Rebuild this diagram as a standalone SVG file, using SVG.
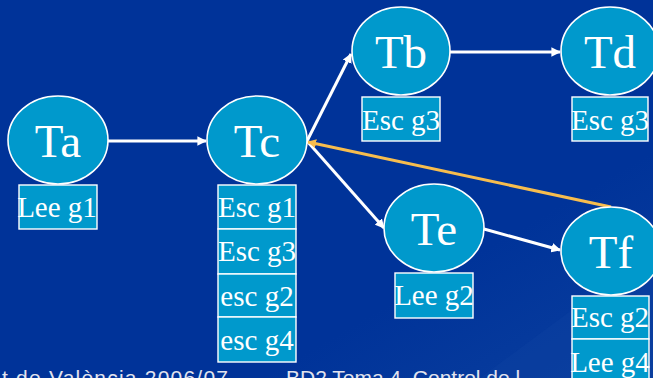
<svg xmlns="http://www.w3.org/2000/svg" width="653" height="378" viewBox="0 0 653 378">
<defs>
<linearGradient id="bg" x1="0" y1="0" x2="1" y2="1">
<stop offset="0" stop-color="#003399"/>
<stop offset="0.7" stop-color="#003399"/>
<stop offset="1" stop-color="#0a3f9f"/>
</linearGradient>
<marker id="aw" viewBox="0 0 10 10" refX="9" refY="5" markerWidth="3.2" markerHeight="3.2" orient="auto" markerUnits="strokeWidth">
<path d="M0,0 L10,5 L0,10 z" fill="#ffffff"/>
</marker>
<marker id="ao" viewBox="0 0 10 10" refX="9" refY="5" markerWidth="3" markerHeight="3" orient="auto" markerUnits="strokeWidth">
<path d="M0,0 L10,5 L0,10 z" fill="#f7bd4e"/>
</marker>
</defs>
<style>
.n{fill:#0099cc;stroke:#ffffff;stroke-width:1.6}
.b{fill:#0099cc;stroke:#ffffff;stroke-width:1.4}
.t{font-family:"Liberation Serif","Times New Roman",serif;fill:#ffffff;text-anchor:middle}
.big{font-size:47px}
.sm{font-size:29px}
.e{stroke:#ffffff;stroke-width:3;fill:none;marker-end:url(#aw)}
.o{stroke:#f7bd4e;stroke-width:3;fill:none;marker-end:url(#ao)}
.f{font-family:"Liberation Sans",Arial,sans-serif;font-size:21px;fill:#e2e4ee}
</style>
<rect width="653" height="378" fill="url(#bg)"/>
<polygon points="480,378 653,250 653,378" fill="#0b3fa0" opacity="0.5"/>
<g id="connectors">
<line class="e" x1="108" y1="141" x2="206" y2="141"/>
<line class="e" x1="307" y1="141" x2="351" y2="54"/>
<line class="e" x1="307" y1="141" x2="384" y2="228"/>
<line class="e" x1="450" y1="52" x2="560" y2="52"/>
<line class="e" x1="484" y1="229" x2="560" y2="250"/>
<line class="o" x1="611" y1="207" x2="308" y2="142"/>
</g>
<g id="Ta">
<ellipse class="n" cx="58" cy="140" rx="50" ry="44"/>
<text class="t big" x="58" y="157">Ta</text>
<rect class="b" x="19" y="185" width="78" height="44"/>
<text class="t sm" x="57" y="217">Lee g1</text>
</g>
<g id="Tc">
<ellipse class="n" cx="257" cy="140" rx="50" ry="44"/>
<text class="t big" x="257" y="157">Tc</text>
<rect class="b" x="218" y="185" width="78" height="44"/>
<rect class="b" x="218" y="229" width="78" height="45"/>
<rect class="b" x="218" y="274" width="78" height="43"/>
<rect class="b" x="218" y="317" width="78" height="45"/>
<text class="t sm" x="257" y="217">Esc g1</text>
<text class="t sm" x="257" y="261">Esc g3</text>
<text class="t sm" x="257" y="306">esc g2</text>
<text class="t sm" x="257" y="350">esc g4</text>
</g>
<g id="Tb">
<ellipse class="n" cx="401" cy="51" rx="49" ry="44"/>
<text class="t big" x="401" y="68">Tb</text>
<rect class="b" x="362" y="97" width="78" height="44"/>
<text class="t sm" x="401" y="130">Esc g3</text>
</g>
<g id="Td">
<ellipse class="n" cx="610" cy="51" rx="49" ry="44"/>
<text class="t big" x="610" y="68">Td</text>
<rect class="b" x="572" y="97" width="76" height="44"/>
<text class="t sm" x="610" y="130">Esc g3</text>
</g>
<g id="Te">
<ellipse class="n" cx="434" cy="228" rx="50" ry="44"/>
<text class="t big" x="434" y="245">Te</text>
<rect class="b" x="395" y="273" width="78" height="45"/>
<text class="t sm" x="434" y="305">Lee g2</text>
</g>
<g id="Tf">
<ellipse class="n" cx="611" cy="251" rx="50" ry="44"/>
<text class="t big" x="611" y="268">Tf</text>
<rect class="b" x="572" y="296" width="77" height="43"/>
<rect class="b" x="572" y="339" width="77" height="45"/>
<text class="t sm" x="610" y="327">Esc g2</text>
<text class="t sm" x="610" y="372">Lee g4</text>
</g>
<g id="footer">
<text class="f" x="2" y="385" textLength="226" lengthAdjust="spacing">t de València 2006/07</text>
<text class="f" x="286" y="385">BD2 Tema 4. Control de l</text>
</g>
</svg>
